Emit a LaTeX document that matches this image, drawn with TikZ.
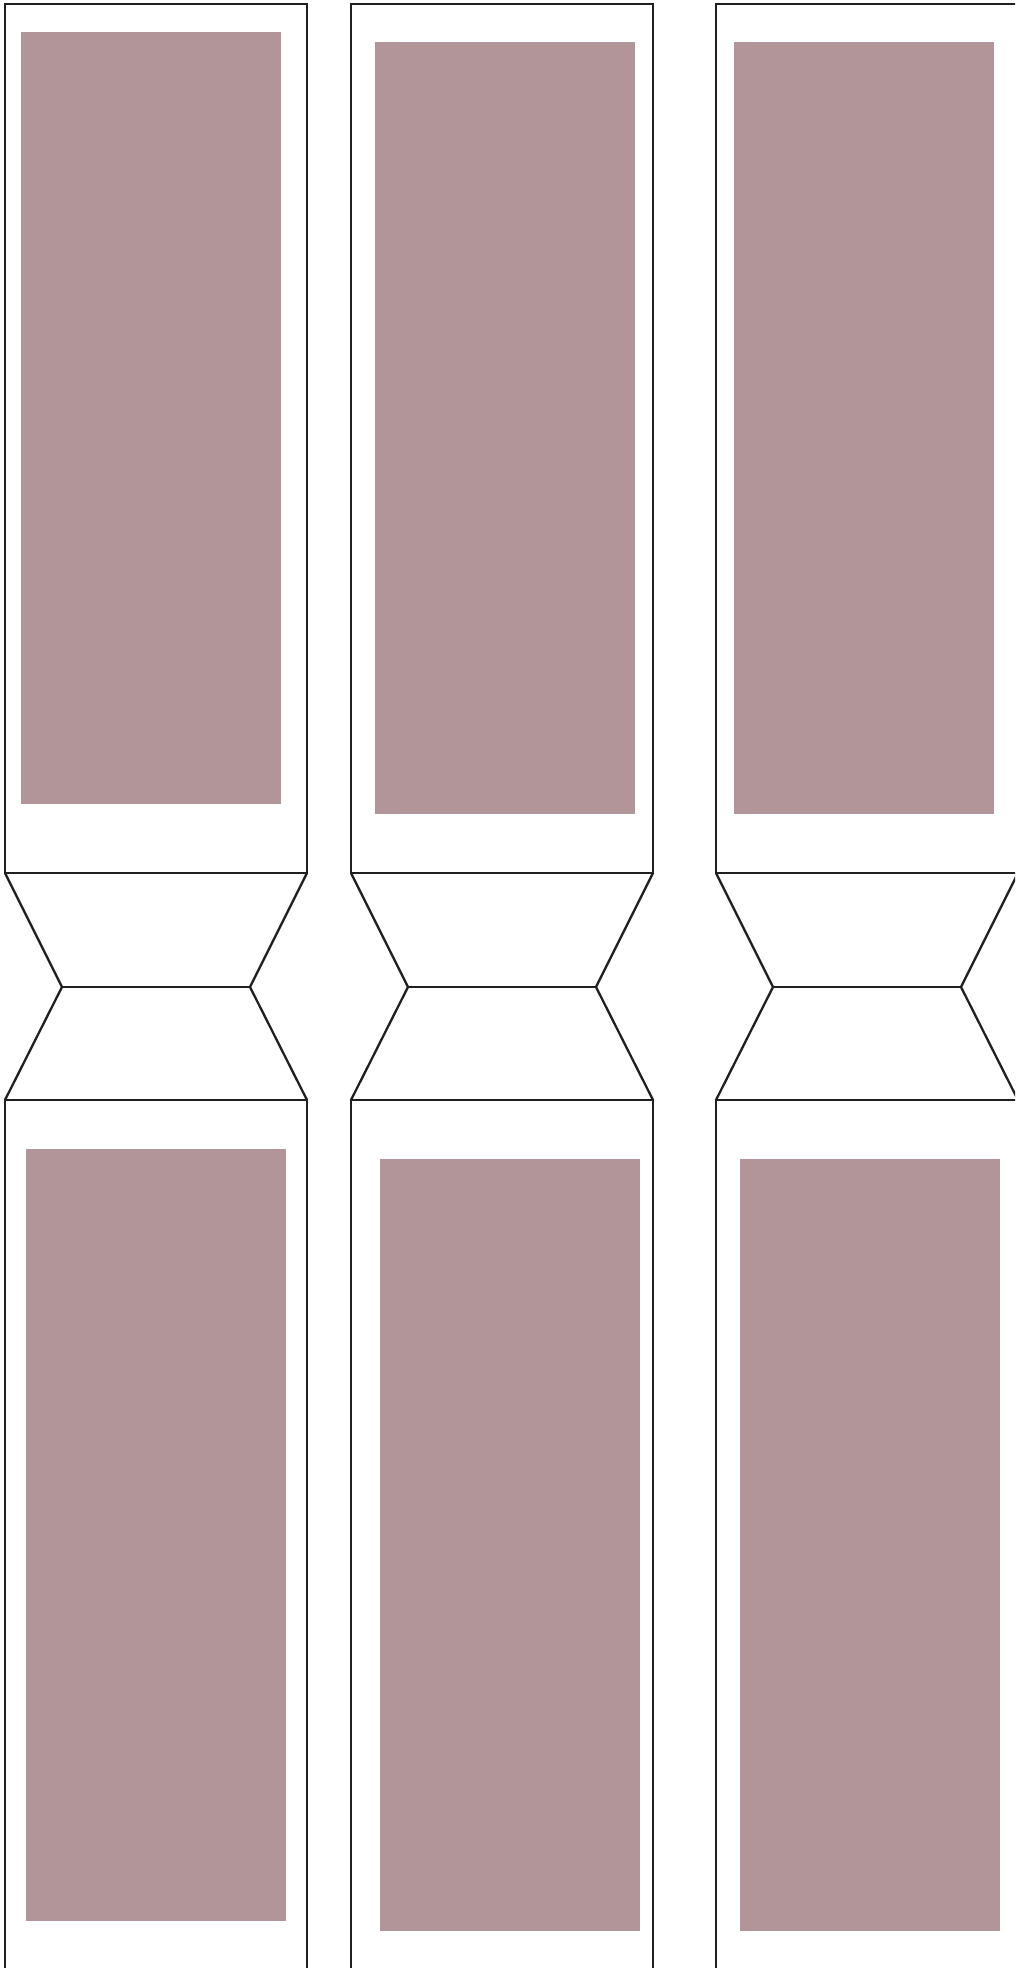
\documentclass[tikz,border=0pt]{standalone}
\usepackage{xcolor}
\usepackage{tikz}

\definecolor{mauve}{RGB}{178,149,153}
\definecolor{ink}{RGB}{34,31,32}

\begin{document}
\begin{tikzpicture}[
  x=1pt, y=-1pt,
  frame/.style={draw=ink, line width=2.3pt},
  panel/.style={fill=mauve, draw=none}
]
\useasboundingbox (0,0) rectangle (1015,1968);
\clip (0,0) rectangle (1015,1968);

% glass panes
\fill[panel] (21,32) rectangle (281,804);
\fill[panel] (26,1149) rectangle (286,1921);
\fill[panel] (375,42) rectangle (635,814);
\fill[panel] (380,1159) rectangle (640,1931);
\fill[panel] (734,42) rectangle (994,814);
\fill[panel] (740,1159) rectangle (1000,1931);

% door frames with waist
\foreach \xl in {5,351,716} {
  \draw[frame] (\xl,4) rectangle (\xl+302,873);
  \draw[frame] (\xl,873) -- (\xl+57,987) -- (\xl,1100);
  \draw[frame] (\xl+302,873) -- (\xl+245,987) -- (\xl+302,1100);
  \draw[frame] (\xl+57,987) -- (\xl+245,987);
  \draw[frame] (\xl,1990) -- (\xl,1100) -- (\xl+302,1100) -- (\xl+302,1990);
}
\end{tikzpicture}
\end{document}
